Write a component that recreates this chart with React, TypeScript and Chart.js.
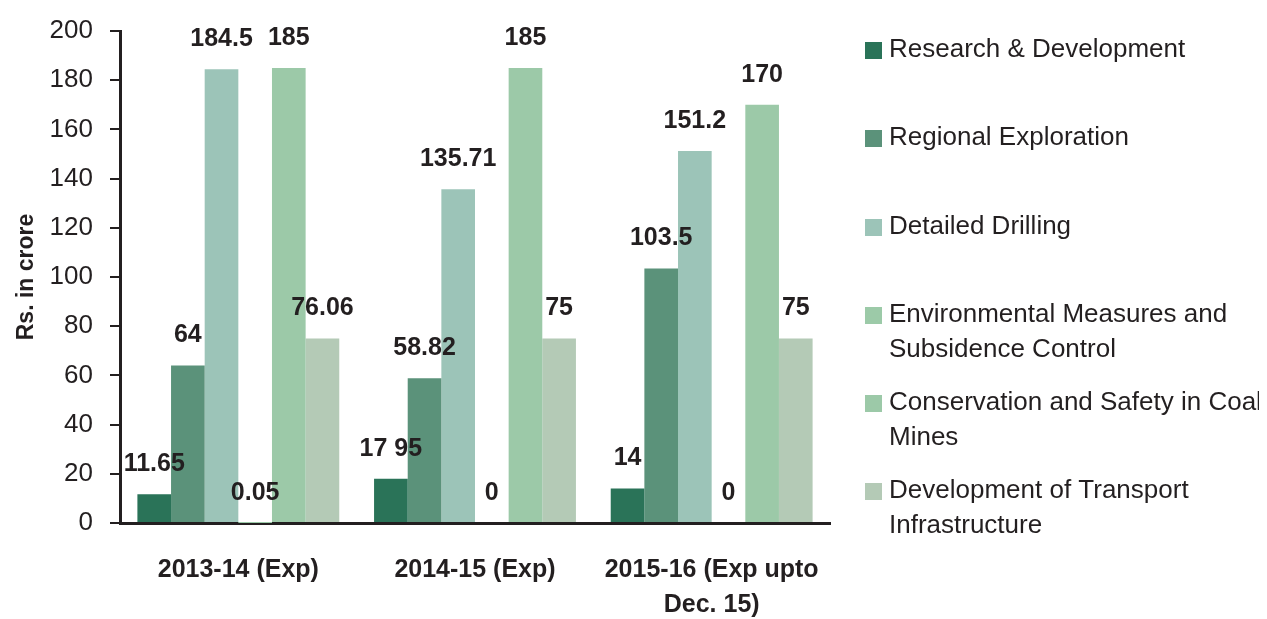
import React, { useEffect, useRef } from "react";
import { Chart, registerables } from "chart.js";

Chart.register(...registerables);

const categories: (string | string[])[] = [
  "2013-14 (Exp)",
  "2014-15 (Exp)",
  ["2015-16 (Exp upto", "Dec. 15)"],
];

const seriesNames: string[][] = [
  ["Research & Development"],
  ["Regional Exploration"],
  ["Detailed Drilling"],
  ["Environmental Measures and", "Subsidence Control"],
  ["Conservation and Safety in Coal", "Mines"],
  ["Development of Transport", "Infrastructure"],
];

const researchDev = [11.65, 17.95, 14];
const regionalExpl = [64, 58.82, 103.5];
const detailedDrill = [184.5, 135.71, 151.2];
const envMeasures = [0.05, 0, 0];
const conservation = [185, 185, 170];
const transport = [75, 75, 75];

const researchDevLabels = ["11.65", "17 95", "14"];
const regionalExplLabels = ["64", "58.82", "103.5"];
const detailedDrillLabels = ["184.5", "135.71", "151.2"];
const envMeasuresLabels = ["0.05", "0", "0"];
const conservationLabels = ["185", "185", "170"];
const transportLabels = ["76.06", "75", "75"];

const colors = ["#2a7358", "#5b927a", "#9cc4b8", "#9ccaa8", "#9cc9a8", "#b4cab6"];

const yTicks = [0, 20, 40, 60, 80, 100, 120, 140, 160, 180, 200];

const FONT = "'Liberation Sans', Arial, sans-serif";
const TEXT = "#231f20";

const seriesValues = [researchDev, regionalExpl, detailedDrill, envMeasures, conservation, transport];
const seriesLabels = [
  researchDevLabels,
  regionalExplLabels,
  detailedDrillLabels,
  envMeasuresLabels,
  conservationLabels,
  transportLabels,
];

const dataLabelPlugin = {
  id: "dataLabels",
  afterDatasetsDraw(chart: any) {
    const ctx = chart.ctx;
    ctx.save();
    ctx.font = `bold 25px ${FONT}`;
    ctx.fillStyle = TEXT;
    ctx.textAlign = "center";
    ctx.textBaseline = "middle";
    chart.data.datasets.forEach((ds: any, i: number) => {
      const meta = chart.getDatasetMeta(i);
      meta.data.forEach((bar: any, j: number) => {
        const txt = ds.valueLabels[j];
        ctx.fillText(txt, bar.x, bar.y - 30);
      });
    });
    ctx.restore();
  },
};

const legendRows = [42, 130, 219, 307, 395, 483];

const legendPlugin = {
  id: "sideLegend",
  afterDraw(chart: any) {
    const ctx = chart.ctx;
    ctx.save();
    ctx.font = `26px ${FONT}`;
    ctx.textAlign = "left";
    ctx.textBaseline = "middle";
    chart.data.datasets.forEach((ds: any, i: number) => {
      const y = legendRows[i];
      ctx.fillStyle = ds.backgroundColor;
      ctx.fillRect(857, y - 8, 17, 17);
      ctx.fillStyle = TEXT;
      ds.legendLines.forEach((line: string, k: number) => {
        ctx.fillText(line, 881, y + k * 35);
      });
    });
    ctx.restore();
  },
};

export default function App() {
  const canvasRef = useRef<HTMLCanvasElement | null>(null);

  useEffect(() => {
    if (!canvasRef.current) return;
    const chart = new Chart(canvasRef.current, {
      type: "bar",
      data: {
        labels: categories,
        datasets: seriesValues.map((vals, i) => ({
          label: seriesNames[i].join(" "),
          data: vals,
          backgroundColor: colors[i],
          borderWidth: 0,
          barPercentage: 1,
          categoryPercentage: 0.853,
          valueLabels: seriesLabels[i],
          legendLines: seriesNames[i],
        })) as any,
      },
      options: {
        responsive: false,
        animation: false,
        layout: { padding: { left: 0, top: 23, right: 429, bottom: 0 } },
        plugins: {
          legend: { display: false },
          tooltip: { enabled: false },
        },
        scales: {
          x: {
            grid: { display: false, drawTicks: false },
            border: { display: true, color: TEXT, width: 3 },
            ticks: {
              color: TEXT,
              font: { family: FONT, size: 25, weight: "bold", lineHeight: 1.4 },
              padding: 30,
              maxRotation: 0,
            },
            afterFit: (scale: any) => {
              scale.height = 96;
            },
          },
          y: {
            min: 0,
            max: 200,
            afterBuildTicks: (scale: any) => {
              scale.ticks = yTicks.map((v) => ({ value: v }));
            },
            grid: {
              display: true,
              drawOnChartArea: false,
              drawTicks: true,
              tickLength: 10,
              color: TEXT,
              lineWidth: 2,
            },
            border: { display: true, color: TEXT, width: 3 },
            ticks: {
              color: TEXT,
              font: { family: FONT, size: 26 },
              padding: 17,
            },
            title: {
              display: true,
              text: "Rs. in crore",
              color: TEXT,
              font: { family: FONT, size: 23, weight: "bold" },
              padding: { top: 5, bottom: 0 },
            },
            afterFit: (scale: any) => {
              scale.width = 112;
              scale.paddingTop = 0;
              scale.paddingBottom = 0;
            },
          },
        },
      },
      plugins: [dataLabelPlugin, legendPlugin],
    });
    return () => chart.destroy();
  }, []);

  return (
    <div style={{ width: 1251, height: 611 }}>
      <canvas ref={canvasRef} width={1251} height={611} style={{ display: "block" }} />
    </div>
  );
}
